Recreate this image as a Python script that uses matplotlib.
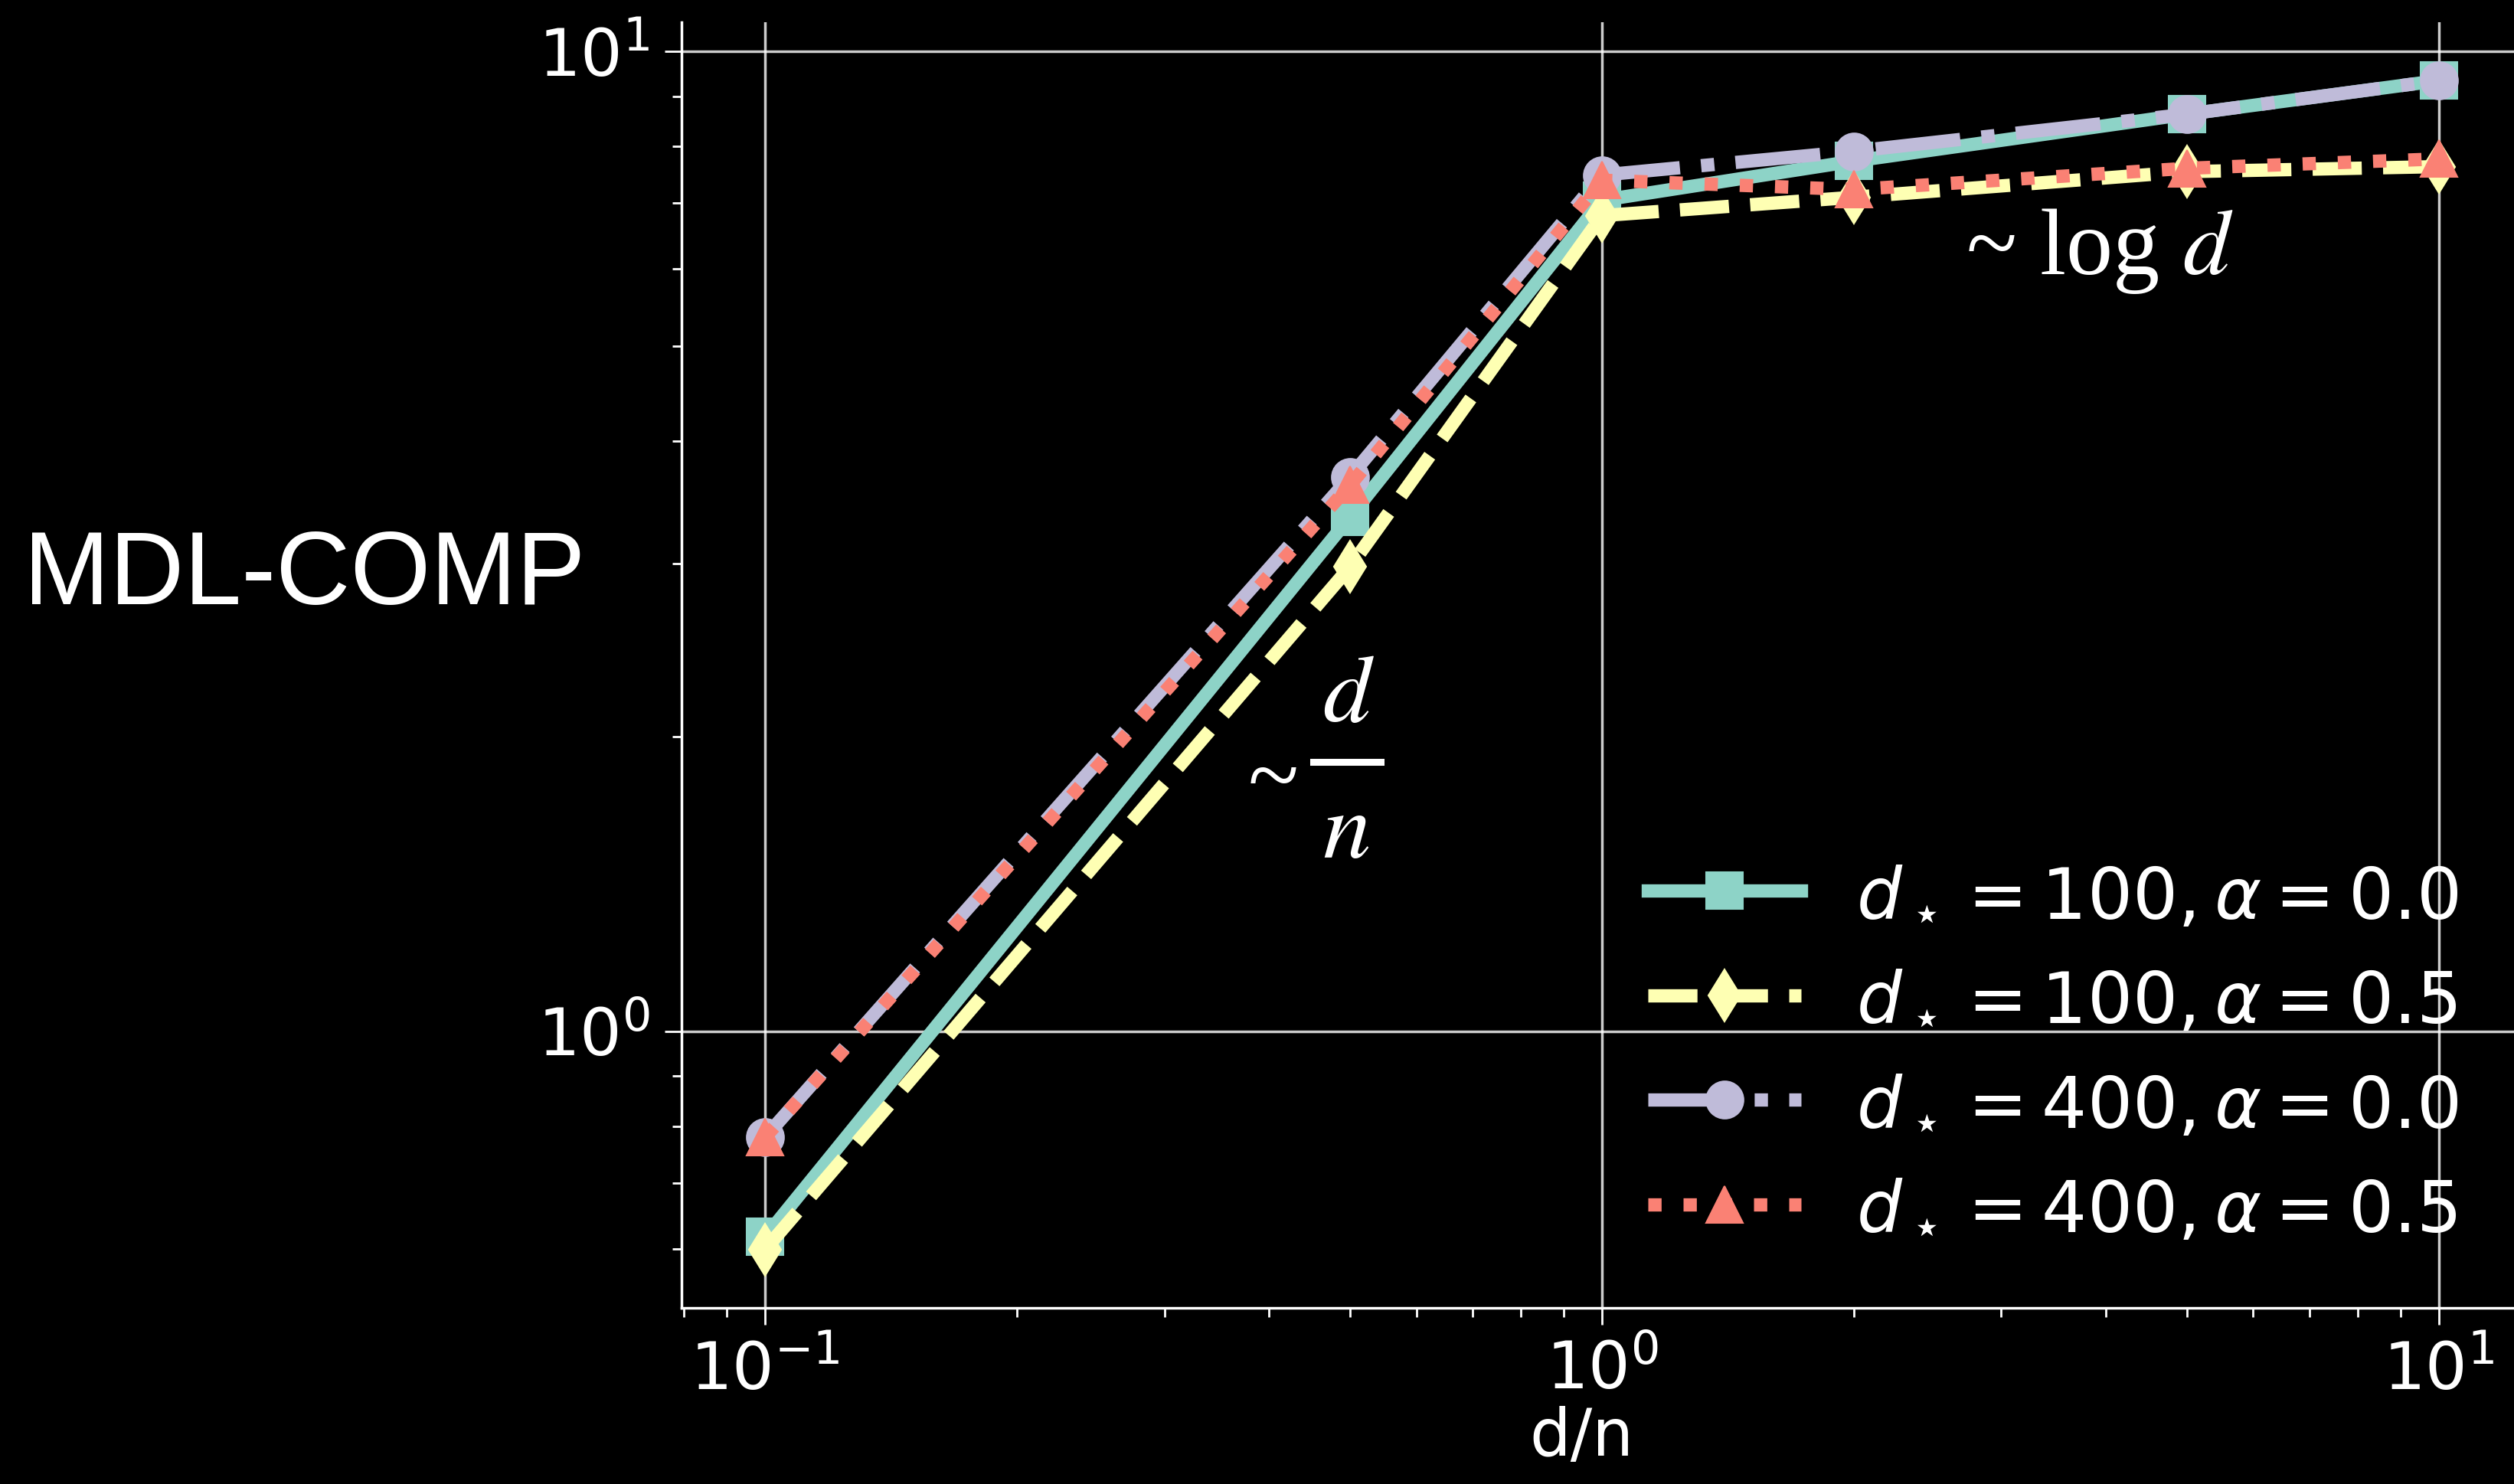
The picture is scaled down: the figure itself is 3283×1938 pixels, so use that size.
import matplotlib
matplotlib.use("Agg")
import matplotlib.pyplot as plt
from matplotlib.lines import Line2D

plt.style.use("dark_background")
plt.rcParams["mathtext.fontset"] = "dejavusans"

# d/n ratio on the x axis
ratio = [0.1, 0.5, 1.0, 2.0, 5.0, 10.0]

# MDL-COMP values
comp_100_a00 = [0.617, 3.35, 7.05, 7.73, 8.63, 9.34]
comp_100_a05 = [0.599, 2.98, 6.80, 7.10, 7.54, 7.63]
comp_400_a00 = [0.78, 3.68, 7.48, 7.91, 8.63, 9.34]
comp_400_a05 = [0.78, 3.61, 7.39, 7.23, 7.60, 7.77]

labels = [r"$d_\star = 100, \alpha = 0.0$",
          r"$d_\star = 100, \alpha = 0.5$",
          r"$d_\star = 400, \alpha = 0.0$",
          r"$d_\star = 400, \alpha = 0.5$"]

fig = plt.figure(figsize=(32.83, 19.38), dpi=100)
ax = fig.add_axes([0.2711, 0.1187, 0.7323, 0.8664])

lw, ms = 12.5, 35
ax.plot(ratio, comp_100_a00, "s-", lw=lw, ms=ms, mew=1.5, label=labels[0])
ax.plot(ratio, comp_100_a05, "d--", lw=lw, ms=ms, mew=1.5, label=labels[1])
ax.plot(ratio, comp_400_a00, "o-.", lw=lw, ms=ms, mew=1.5, label=labels[2])
ax.plot(ratio, comp_400_a05, "^:", lw=lw, ms=ms, mew=1.5, label=labels[3])

ax.set_xscale("log")
ax.set_yscale("log")
ax.grid(True, which="major", color="white", lw=2.5, alpha=0.8)

for side in ["top", "right"]:
    ax.spines[side].set_visible(False)
for side in ["left", "bottom"]:
    ax.spines[side].set_linewidth(2.5)

ax.tick_params(which="major", length=16, width=2, labelsize=62, pad=14)
ax.tick_params(which="minor", length=8.5, width=2)
ax.set_xlabel("d/n", fontsize=61)
ax.xaxis.set_label_coords(0.489, -0.076)

ax.legend(loc="lower right", fontsize=67, frameon=False,
          handlelength=2.14, handletextpad=0.78, labelspacing=0.5)

# labels added on top of the chart
fig.text(0.0094, 0.5929, "MDL-COMP", fontsize=97, family="Liberation Sans",
         va="baseline", ha="left", color="white")

plt.rcParams["mathtext.fontset"] = "stix"
fig.text(0.782, 0.8153, "~ log $d$", fontsize=88, family="Liberation Serif",
         va="baseline", ha="left", color="white")

# ~ d/n, built from pieces so the fraction is spread like the original
fig.text(0.4965, 0.4565, "~", fontsize=88, family="Liberation Serif",
         va="baseline", ha="left", color="white")
fig.text(0.5364, 0.5139, "$d$", fontsize=90, va="baseline", ha="center",
         color="white")
fig.text(0.5355, 0.4221, "$n$", fontsize=90, va="baseline", ha="center",
         color="white")
fig.add_artist(Line2D([0.5224, 0.5491], [0.4866, 0.4866], lw=6.5,
                      color="white", transform=fig.transFigure))

fig.savefig("out.png", dpi=100)
